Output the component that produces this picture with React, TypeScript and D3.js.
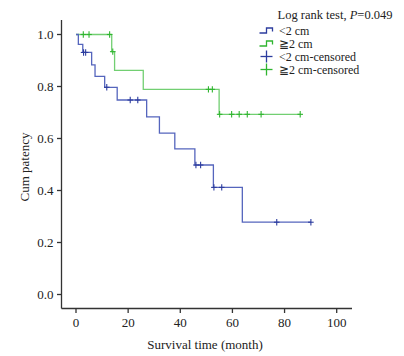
import React from "react";
import * as d3 from "d3";

const blueEventTimes = [0.9, 2.6, 6, 7.3, 11, 15.8, 27.1, 32, 37.9, 45.6, 52.7, 63.8];
const blueSurvival = [0.962, 0.931, 0.883, 0.839, 0.797, 0.748, 0.683, 0.621, 0.56, 0.498, 0.412, 0.278];
const blueCensored = [2.9, 3.7, 11.8, 20.8, 23.7, 46, 47.8, 52.9, 55.9, 77, 90.1];
const blueEnd = 90.1;

const greenEventTimes = [13.7, 14.8, 25.8, 54.9];
const greenSurvival = [0.934, 0.862, 0.789, 0.693];
const greenCensored = [2.8, 5, 12.9, 14.1, 50.8, 52.3, 55.1, 59.7, 62.6, 65.7, 71, 86];
const greenEnd = 86;

const xTicks = [0, 20, 40, 60, 80, 100];
const yTicks = [0, 0.2, 0.4, 0.6, 0.8, 1.0];
const legendLabels = ["<2 cm", "\u22672 cm", "<2 cm-censored", "\u22672 cm-censored"];

const BLUE_LINE = "#5565bd";
const BLUE_MARK = "#2c3c9e";
const GREEN_LINE = "#72cf72";
const GREEN_MARK = "#2fb52f";
const FONT = "'Liberation Serif', 'Times New Roman', serif";

const x = d3.scaleLinear().domain([0, 100]).range([76, 336.7]);
const y = d3.scaleLinear().domain([0, 1]).range([294.5, 34.5]);

function survAt(times: number[], surv: number[], t: number) {
  let s = 1;
  for (let i = 0; i < times.length; i++) if (times[i] <= t) s = surv[i];
  return s;
}

function stepPoints(times: number[], surv: number[], end: number): [number, number][] {
  const pts: [number, number][] = [[0, 1]];
  times.forEach((t, i) => pts.push([t, surv[i]]));
  pts.push([end, surv[surv.length - 1]]);
  return pts;
}

const line = d3
  .line<[number, number]>()
  .x((d) => x(d[0]))
  .y((d) => y(d[1]))
  .curve(d3.curveStepAfter);

function Censors({ times, evTimes, surv, color }: { times: number[]; evTimes: number[]; surv: number[]; color: string }) {
  return (
    <g stroke={color} strokeWidth={1.1}>
      {times.map((t, i) => {
        const cx = x(t);
        const cy = y(survAt(evTimes, surv, t));
        return (
          <g key={i}>
            <line x1={cx} x2={cx} y1={cy - 3.2} y2={cy + 3.2} />
            <line x1={cx - 2.8} x2={cx + 2.8} y1={cy} y2={cy} />
          </g>
        );
      })}
    </g>
  );
}

export default function App() {
  const axisLeft = 61.5;
  const axisBottom = 308.5;
  const legendX = 259.5;
  const legendYs = [30.5, 43.5, 56.5, 69.5];
  const stepSym = (x0: number, yc: number) =>
    `M${x0},${yc + 2.5}H${x0 + 7}V${yc - 2.5}H${x0 + 13}V${yc + 1}`;
  return (
    <svg width={404} height={356} style={{ position: "absolute", left: 0, top: 0, background: "#fff" }}>
      {/* axes */}
      <g stroke="#333" strokeWidth={1.3} fill="none">
        <line x1={axisLeft} x2={axisLeft} y1={20} y2={axisBottom} />
        <line x1={axisLeft} x2={352} y1={axisBottom} y2={axisBottom} />
        {yTicks.map((t) => (
          <line key={t} x1={axisLeft - 4.5} x2={axisLeft} y1={y(t)} y2={y(t)} />
        ))}
        {xTicks.map((t) => (
          <line key={t} x1={x(t)} x2={x(t)} y1={axisBottom} y2={axisBottom + 4.5} />
        ))}
      </g>
      <g fontFamily={FONT} fontSize={13} fill="#222">
        {yTicks.map((t) => (
          <text key={t} x={53.5} y={y(t) + 4.5} textAnchor="end">
            {d3.format(".1f")(t)}
          </text>
        ))}
        {xTicks.map((t) => (
          <text key={t} x={x(t)} y={327} textAnchor="middle">
            {t}
          </text>
        ))}
        <text x={205} y={349} textAnchor="middle">
          Survival time (month)
        </text>
        <text transform="translate(29,167) rotate(-90)" textAnchor="middle">
          Cum patency
        </text>
      </g>
      {/* curves */}
      <path d={line(stepPoints(greenEventTimes, greenSurvival, greenEnd)) || ""} fill="none" stroke={GREEN_LINE} strokeWidth={1.3} />
      <path d={line(stepPoints(blueEventTimes, blueSurvival, blueEnd)) || ""} fill="none" stroke={BLUE_LINE} strokeWidth={1.3} />
      <Censors times={greenCensored} evTimes={greenEventTimes} surv={greenSurvival} color={GREEN_MARK} />
      <Censors times={blueCensored} evTimes={blueEventTimes} surv={blueSurvival} color={BLUE_MARK} />
      {/* legend */}
      <g fontFamily={FONT} fontSize={12} fill="#222">
        <text x={277.5} y={19} fontSize={12.5}>
          Log rank test, <tspan fontStyle="italic">P</tspan>=0.049
        </text>
        {legendLabels.map((l, i) => (
          <text key={l} x={279} y={legendYs[i] + 4.3}>
            {l}
          </text>
        ))}
      </g>
      <path d={stepSym(legendX, legendYs[0])} fill="none" stroke={BLUE_MARK} strokeWidth={1.3} />
      <path d={stepSym(legendX, legendYs[1])} fill="none" stroke={GREEN_MARK} strokeWidth={1.3} />
      <g stroke={BLUE_MARK} strokeWidth={1.3}>
        <line x1={legendX + 1} x2={legendX + 13} y1={legendYs[2]} y2={legendYs[2]} />
        <line x1={legendX + 7} x2={legendX + 7} y1={legendYs[2] - 6} y2={legendYs[2] + 6} />
      </g>
      <g stroke={GREEN_MARK} strokeWidth={1.3}>
        <line x1={legendX + 1} x2={legendX + 13} y1={legendYs[3]} y2={legendYs[3]} />
        <line x1={legendX + 7} x2={legendX + 7} y1={legendYs[3] - 6} y2={legendYs[3] + 6} />
      </g>
    </svg>
  );
}
